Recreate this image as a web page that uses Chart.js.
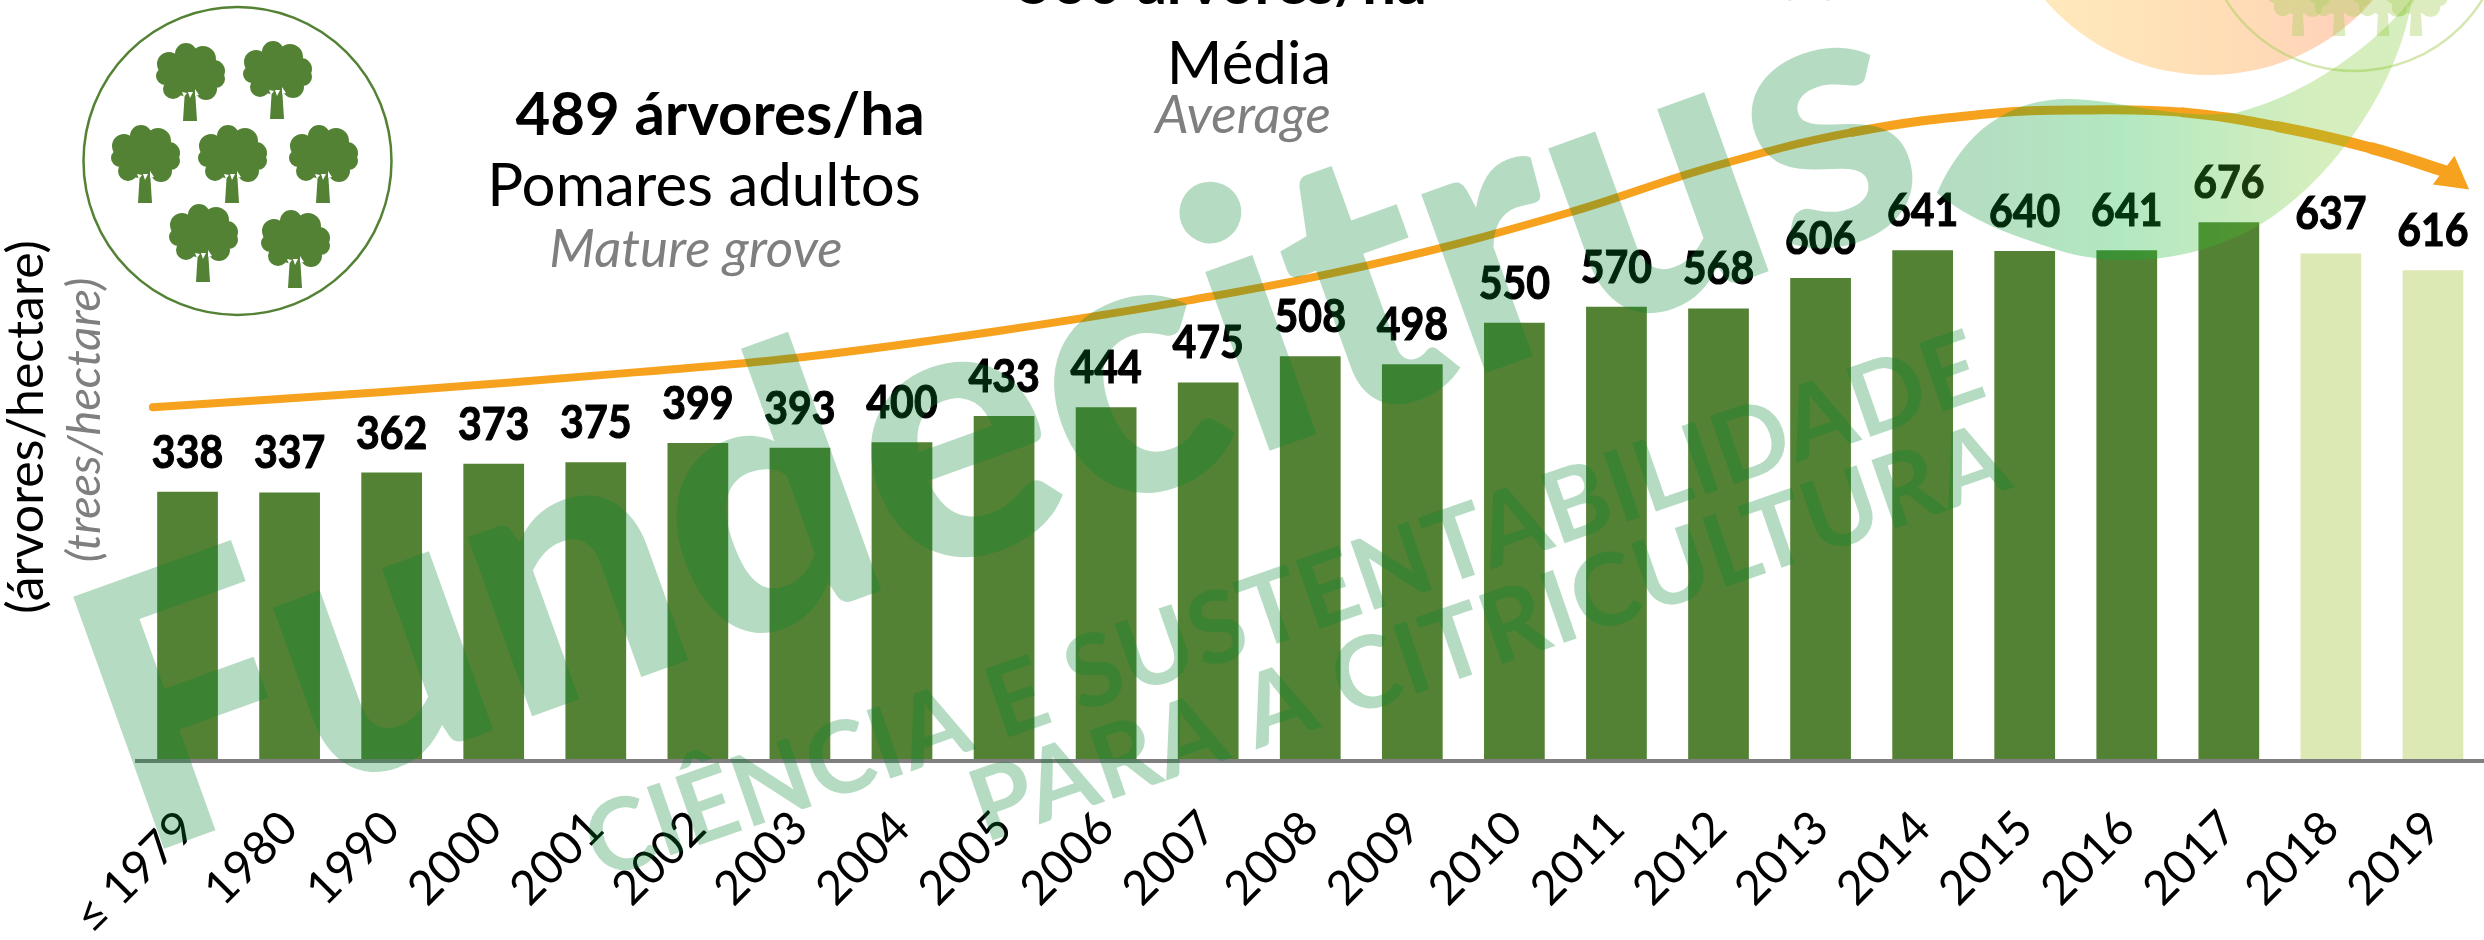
<!DOCTYPE html>
<html><head><meta charset="utf-8">
<style>html,body{margin:0;padding:0;background:#fff}canvas{display:block}</style>
<script src="https://cdn.jsdelivr.net/npm/chart.js@4"></script>
</head><body><canvas id="c" width="2484" height="940"></canvas>
<script>
const categories=['≤ 1979','1980','1990','2000','2001','2002','2003','2004','2005','2006','2007','2008','2009','2010','2011','2012','2013','2014','2015','2016','2017','2018','2019'];
const trees=[338,337,362,373,375,399,393,400,433,444,475,508,498,550,570,568,606,641,640,641,676,637,616];
const trendPos=[-0.34,1.92,4.41,5.97,7.96,9.81,11.67,13.53,14.92,16.31,17.70,18.62,19.55,20.48,21.40,22.12];
const trendVal=[444,463,488,506,540,578,625,688,745,789,813,817,814,796,769,740];
const trendWidth=[8,8,8,8,8,8,8,8,8,9,9,9,10,11,12,12];
const DARK='#548235',LIGHT='#DDE9B4';
const barColors=categories.map((c,i)=>i<21?DARK:LIGHT);
const SANS='Lato, "Open Sans", sans-serif';

function txt(ctx,s,x,y,font,color,align){ctx.font=font;ctx.fillStyle=color;ctx.textAlign=align||'center';ctx.textBaseline='alphabetic';ctx.fillText(s,x,y);}
function tree(ctx,x,b,s,color,gap){
  ctx.save();ctx.translate(x,b);ctx.scale(s,s);ctx.fillStyle=color;
  const lobes=[[-4,-67,11],[13,-62,13],[24,-50,11],[-21,-57,12],[-25,-45,9],[-17,-32,10],[16,-32,11],[26,-42,9],[-1,-46,22],[-11,-42,16],[11,-42,16]];
  ctx.beginPath();
  for(const [a,c,r] of lobes){ctx.moveTo(a+r,c);ctx.arc(a,c,r,0,Math.PI*2);}
  ctx.moveTo(-7,0);ctx.lineTo(-5,-32);ctx.lineTo(5,-32);ctx.lineTo(7,0);ctx.closePath();
  ctx.fill();
  if(gap){ctx.fillStyle=gap;
    for(const t of [[-8,-29,-3,-28,-6,-24],[-2,-29,3,-29,0,-23],[5,-32,9,-26,5,-25]]){
      ctx.beginPath();ctx.moveTo(t[0],t[1]);ctx.lineTo(t[2],t[3]);ctx.lineTo(t[4],t[5]);ctx.closePath();ctx.fill();}
  }
  ctx.restore();
}
function wm(ctx,s,x0,y0,x1,y1,font,vs,spaced){
  const ang=Math.atan2(y1-y0,x1-x0),len=Math.hypot(x1-x0,y1-y0);
  ctx.save();ctx.font=font;ctx.textAlign='left';ctx.textBaseline='alphabetic';
  ctx.letterSpacing='0px';
  const w=ctx.measureText(s).width;
  ctx.translate(x0,y0);ctx.rotate(ang);
  if(spaced){ctx.letterSpacing=((len-w)/s.length)+'px';}
  else ctx.scale(len/w,vs||1);
  ctx.fillStyle='rgba(0,131,45,0.29)';ctx.fillText(s,0,0);ctx.restore();
}
const decor={id:'decor',
  beforeDatasetsDraw(ch){
    const ctx=ch.ctx;
    ctx.save();
    ctx.strokeStyle=DARK;ctx.lineWidth=2.5;ctx.beginPath();ctx.arc(237.5,161,154,0,Math.PI*2);ctx.stroke();
    for(const [x,b] of [[190,121],[277,119],[145,203],[232,203],[323,203],[203,282],[295,288]])tree(ctx,x,b,1,DARK,'#fff');
    txt(ctx,'560 árvores/ha',1222,4,'bold 60px '+SANS,'#000');
    txt(ctx,'Média',1249,84,'60px '+SANS,'#000');
    txt(ctx,'Average',1243,133,'italic 53px '+SANS,'#7f7f7f');
    txt(ctx,'Young grove',1805,-9,'italic 53px '+SANS,'#7f7f7f');
    txt(ctx,'489 árvores/ha',720,135,'bold 60px '+SANS,'#000');
    txt(ctx,'Pomares adultos',704,206,'60px '+SANS,'#000');
    txt(ctx,'Mature grove',696,267,'italic 53px '+SANS,'#7f7f7f');
    ctx.save();ctx.translate(43,427);ctx.rotate(-Math.PI/2);txt(ctx,'(árvores/hectare)',0,0,'50px '+SANS,'#000');ctx.restore();
    ctx.save();ctx.translate(100,420);ctx.rotate(-Math.PI/2);txt(ctx,'(trees/hectare)',0,0,'italic 47px '+SANS,'#7f7f7f');ctx.restore();
    ctx.restore();
  },
  afterDatasetsDraw(ch){
    const ctx=ch.ctx;
    ctx.save();
    ch.getDatasetMeta(1).data.forEach((b,i)=>{
      ctx.save();ctx.translate(b.x,b.y-24);ctx.scale(1,1.1);
      txt(ctx,String(trees[i]),0,0,'bold 41px '+SANS,'#000');
      ctx.strokeStyle='#000';ctx.lineWidth=1;ctx.strokeText(String(trees[i]),0,0);
      ctx.restore();
    });
    const pts=ch.getDatasetMeta(0).data,e=pts[pts.length-1],a=37*Math.PI/180;
    ctx.translate(e.x,e.y);ctx.rotate(a);ctx.fillStyle='#F6A21E';
    ctx.beginPath();ctx.moveTo(30,0);ctx.lineTo(-2,-18);ctx.lineTo(-2,18);ctx.closePath();ctx.fill();
    ctx.restore();
  },
  afterDraw(ch){
    const ctx=ch.ctx;
    ctx.save();
    let g=ctx.createLinearGradient(2045,0,2373,0);g.addColorStop(0,'#FFE9BC');g.addColorStop(.55,'#FFDDB6');g.addColorStop(1,'#FFD0BC');
    ctx.fillStyle=g;ctx.beginPath();ctx.arc(2209,-142,217,0,Math.PI*2);ctx.fill();
    ctx.strokeStyle='rgba(169,207,96,0.5)';ctx.lineWidth=2.5;ctx.beginPath();ctx.arc(2354,-80,151,0,Math.PI*2);ctx.stroke();
    for(const x of [2298,2339,2383,2416])tree(ctx,x,36,.9,'rgba(169,207,96,0.4)',null);
    g=ctx.createLinearGradient(1937,0,2320,0);
    g.addColorStop(0,'rgba(0,131,45,0.29)');g.addColorStop(.48,'rgba(0,180,50,0.30)');g.addColorStop(1,'rgba(120,200,40,0.30)');
    ctx.fillStyle=g;ctx.beginPath();ctx.moveTo(1937,193);
    ctx.bezierCurveTo(1965,130,2010,99,2068,99);
    ctx.bezierCurveTo(2120,99,2170,120,2235,113);
    ctx.bezierCurveTo(2310,95,2380,40,2412,-2);
    ctx.bezierCurveTo(2400,80,2340,170,2272,217);
    ctx.bezierCurveTo(2200,265,2110,270,2049,247);
    ctx.bezierCurveTo(2010,235,1970,220,1937,193);
    ctx.closePath();ctx.fill();
    wm(ctx,'Fundecitrus',138,858,1939,210,'900 369px '+SANS,1);
    wm(ctx,'CIÊNCIA E SUSTENTABILIDADE',600,880,1990,395,'bold 100px '+SANS,1,true);
    wm(ctx,'PARA A CITRICULTURA',985,843,2015,487,'bold 100px '+SANS,1,true);
    ctx.restore();
  }
};
new Chart(document.getElementById('c'),{
  data:{labels:categories,datasets:[
    {type:'line',xAxisID:'xT',yAxisID:'y',label:'Tendência',order:0,
      data:trendPos.map((p,i)=>({x:p,y:trendVal[i]})),
      borderColor:'#F6A21E',borderWidth:8,tension:.4,pointRadius:0,fill:false,borderCapStyle:'round',clip:false,
      segment:{borderWidth:c=>trendWidth[c.p0DataIndex]}},
    {type:'bar',xAxisID:'x',yAxisID:'y',label:'árvores/ha',order:1,data:trees,grouped:false,
      backgroundColor:barColors,categoryPercentage:1,barPercentage:.595}
  ]},
  options:{
    responsive:false,animation:false,devicePixelRatio:1,
    layout:{padding:{left:136.5,right:0,top:0,bottom:0},autoPadding:false},
    plugins:{legend:{display:false},title:{display:false},tooltip:{enabled:false}},
    scales:{
      x:{type:'category',offset:true,position:'bottom',
        afterFit(s){s.height=179;s.paddingLeft=0;s.paddingRight=0;},
        grid:{display:false},
        border:{display:true,color:'#7f7f7f',width:4,z:1},
        ticks:{color:'#000',autoSkip:false,maxRotation:45,minRotation:45,padding:31,font:{family:SANS,size:47}}},
      xT:{type:'linear',display:false,min:-.5,max:22.5,position:'bottom'},
      y:{display:false,min:0,max:955,grid:{display:false}}
    }
  },
  plugins:[decor]
});
</script></body></html>
